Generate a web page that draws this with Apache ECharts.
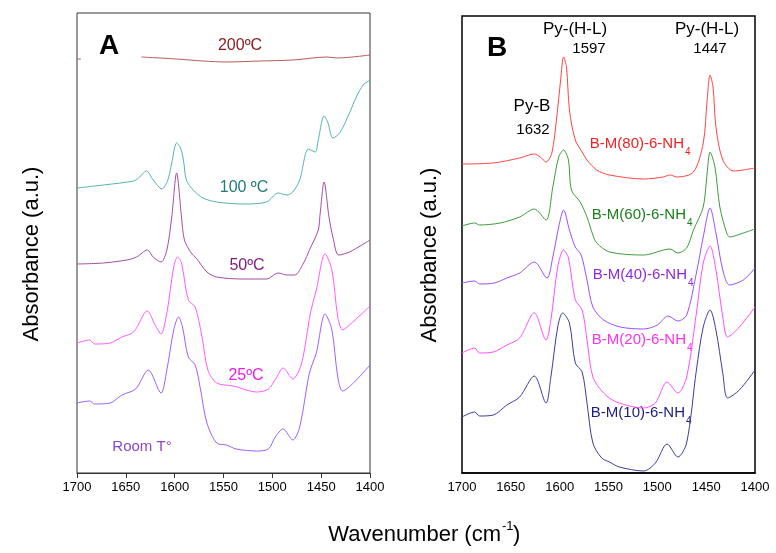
<!DOCTYPE html>
<html>
<head>
<meta charset="utf-8">
<script src="https://cdn.jsdelivr.net/npm/echarts@6/dist/echarts.min.js"></script>
<style>
  html, body { margin: 0; padding: 0; background: #fff; }
  #chart { width: 776px; height: 553px; }
</style>
</head>
<body>
<div id="chart"></div>
<script>
// Wavenumber ticks shared by both panels (cm-1, axis runs 1700 -> 1400)
const wnTicks = [1700, 1650, 1600, 1550, 1500, 1450, 1400];

// Panel A: pyridine desorption spectra at increasing temperature, [wavenumber, absorbance (a.u.)]
const specA_200C = [
  [1700, 4.14], [1696, 4.14], [1695, null],
  [1634, 4.16], [1598, 4.14], [1571, 4.12], [1547, 4.11], [1513, 4.12],
  [1479, 4.13], [1444, 4.16], [1434, 4.15], [1400, 4.18]
];
const specA_100C = [
  [1700, 2.85], [1673, 2.88], [1642, 2.92], [1637, 2.95], [1629, 3.02], [1622, 2.93],
  [1613, 2.84], [1607, 2.93], [1603, 3.10], [1598, 3.30], [1594, 3.25], [1591, 3.13],
  [1588, 2.93], [1581, 2.83], [1571, 2.75], [1557, 2.71], [1530, 2.69], [1506, 2.71],
  [1494, 2.80], [1485, 2.78], [1479, 2.81], [1472, 2.93], [1463, 3.24], [1456, 3.21],
  [1453, 3.33], [1447, 3.57], [1443, 3.50], [1438, 3.35], [1431, 3.40], [1421, 3.60],
  [1414, 3.76], [1407, 3.88], [1400, 3.93]
];
const specA_50C = [
  [1700, 2.09], [1673, 2.10], [1649, 2.13], [1639, 2.16], [1628, 2.23], [1622, 2.16],
  [1614, 2.11], [1608, 2.23], [1603, 2.56], [1598, 3.00], [1593, 2.56], [1590, 2.33],
  [1583, 2.20], [1578, 2.15], [1567, 2.01], [1557, 1.96], [1530, 1.94], [1506, 1.94],
  [1494, 2.00], [1485, 1.98], [1477, 1.98], [1468, 2.10], [1462, 2.23], [1453, 2.43],
  [1451, 2.60], [1447, 2.91], [1442, 2.56], [1438, 2.36], [1432, 2.18], [1421, 2.21],
  [1400, 2.33]
];
const specA_25C = [
  [1700, 1.30], [1687, 1.33], [1682, 1.29], [1666, 1.30], [1654, 1.36], [1642, 1.41],
  [1628, 1.62], [1620, 1.48], [1614, 1.39], [1608, 1.60], [1601, 2.06], [1597, 2.16],
  [1593, 2.10], [1586, 1.73], [1579, 1.66], [1572, 1.36], [1566, 1.03], [1557, 0.90],
  [1540, 0.87], [1516, 0.81], [1504, 0.84], [1496, 0.95], [1489, 1.05], [1479, 0.94],
  [1470, 1.10], [1461, 1.60], [1455, 1.83], [1446, 2.19], [1439, 2.03], [1433, 1.56],
  [1428, 1.43], [1421, 1.48], [1400, 1.67]
];
const specA_roomT = [
  [1700, 0.70], [1687, 0.72], [1682, 0.69], [1666, 0.70], [1654, 0.78], [1640, 0.84],
  [1627, 1.03], [1614, 0.80], [1608, 1.03], [1601, 1.43], [1596, 1.56], [1592, 1.46],
  [1586, 1.16], [1579, 1.08], [1574, 0.86], [1567, 0.50], [1557, 0.30], [1547, 0.28],
  [1537, 0.24], [1516, 0.22], [1504, 0.24], [1497, 0.36], [1489, 0.44], [1479, 0.33],
  [1472, 0.46], [1462, 1.00], [1455, 1.20], [1446, 1.59], [1439, 1.43], [1433, 0.96],
  [1428, 0.82], [1417, 0.90], [1400, 1.08]
];

// Panel B: pyridine spectra of the B-M(x)-6-NH4 samples, [wavenumber, absorbance (a.u.)]
const specB_80 = [
  [1700, 3.09], [1668, 3.10], [1641, 3.15], [1626, 3.19], [1620, 3.16], [1614, 3.11],
  [1608, 3.20], [1603, 3.56], [1599, 3.93], [1596, 4.16], [1593, 4.06], [1590, 3.63],
  [1584, 3.33], [1577, 3.21], [1572, 3.13], [1562, 3.03], [1549, 2.98], [1514, 2.94],
  [1494, 2.96], [1487, 2.98], [1480, 2.96], [1463, 3.01], [1453, 3.30], [1449, 3.73],
  [1446, 3.98], [1443, 3.86], [1440, 3.46], [1433, 3.13], [1422, 3.02], [1412, 3.03],
  [1400, 3.05]
];
const specB_60 = [
  [1700, 2.47], [1687, 2.50], [1682, 2.48], [1661, 2.50], [1641, 2.56], [1626, 2.64],
  [1614, 2.53], [1607, 2.86], [1601, 3.16], [1596, 3.23], [1591, 3.13], [1588, 2.83],
  [1579, 2.71], [1572, 2.56], [1566, 2.38], [1562, 2.30], [1549, 2.21], [1514, 2.18],
  [1487, 2.24], [1479, 2.20], [1470, 2.25], [1463, 2.43], [1453, 2.66], [1449, 3.00],
  [1446, 3.21], [1441, 3.06], [1436, 2.66], [1429, 2.40], [1426, 2.36], [1412, 2.40],
  [1400, 2.44]
];
const specB_40 = [
  [1700, 1.90], [1687, 1.92], [1682, 1.89], [1667, 1.90], [1654, 1.95], [1641, 2.00],
  [1626, 2.11], [1613, 1.95], [1607, 2.16], [1601, 2.46], [1596, 2.63], [1590, 2.43],
  [1584, 2.26], [1578, 2.18], [1572, 1.93], [1566, 1.66], [1555, 1.53], [1538, 1.46],
  [1514, 1.44], [1500, 1.48], [1489, 1.57], [1479, 1.52], [1470, 1.58], [1460, 2.00],
  [1453, 2.36], [1446, 2.65], [1440, 2.40], [1433, 2.03], [1426, 1.88], [1412, 1.93],
  [1400, 2.05]
];
const specB_20 = [
  [1700, 1.20], [1687, 1.25], [1682, 1.20], [1668, 1.21], [1654, 1.28], [1641, 1.35],
  [1626, 1.60], [1614, 1.33], [1609, 1.53], [1602, 2.06], [1596, 2.23], [1591, 2.15],
  [1584, 1.73], [1577, 1.63], [1572, 1.33], [1566, 0.96], [1555, 0.80], [1542, 0.71],
  [1514, 0.65], [1502, 0.70], [1490, 0.91], [1479, 0.80], [1470, 0.96], [1460, 1.60],
  [1453, 2.10], [1446, 2.27], [1440, 2.03], [1433, 1.56], [1428, 1.36], [1416, 1.46],
  [1400, 1.66]
];
const specB_10 = [
  [1700, 0.56], [1687, 0.61], [1682, 0.57], [1668, 0.58], [1654, 0.68], [1641, 0.76],
  [1626, 0.97], [1614, 0.70], [1609, 0.96], [1602, 1.46], [1597, 1.60], [1590, 1.50],
  [1584, 1.10], [1577, 1.01], [1572, 0.70], [1566, 0.30], [1557, 0.15], [1549, 0.11],
  [1539, 0.06], [1514, 0.02], [1502, 0.10], [1490, 0.29], [1479, 0.16], [1470, 0.30],
  [1460, 1.03], [1453, 1.46], [1446, 1.63], [1440, 1.43], [1433, 1.00], [1428, 0.75],
  [1416, 0.83], [1400, 1.03]
];

const FONT = "'Liberation Sans', Arial, Helvetica, sans-serif";

const panelA = [
  { name: '200ºC', data: specA_200C, color: '#b85a5a' },
  { name: '100 ºC', data: specA_100C, color: '#52b5ae' },
  { name: '50ºC', data: specA_50C, color: '#a24ea2' },
  { name: '25ºC', data: specA_25C, color: '#ff5cff' },
  { name: 'Room T°', data: specA_roomT, color: '#9b62ff' }
];
const panelB = [
  { name: 'B-M(80)-6-NH4', data: specB_80, color: '#ff4444' },
  { name: 'B-M(60)-6-NH4', data: specB_60, color: '#3f9b3f' },
  { name: 'B-M(40)-6-NH4', data: specB_40, color: '#9a50ff' },
  { name: 'B-M(20)-6-NH4', data: specB_20, color: '#ff50ff' },
  { name: 'B-M(10)-6-NH4', data: specB_10, color: '#3d3d99' }
];

function lineSeries(def, idx) {
  return {
    type: 'line',
    name: def.name,
    xAxisIndex: idx,
    yAxisIndex: idx,
    data: def.data,
    showSymbol: false,
    smooth: 0.3,
    connectNulls: false,
    silent: true,
    lineStyle: { color: def.color, width: 1 },
    itemStyle: { color: def.color }
  };
}

function xAxisFor(idx, withTicks, lineColor, lineWidth) {
  return {
    type: 'value',
    gridIndex: idx,
    inverse: true,
    min: wnTicks[wnTicks.length - 1],
    max: wnTicks[0],
    interval: 50,
    axisLine: { show: true, onZero: false, lineStyle: { color: lineColor, width: lineWidth } },
    axisTick: { show: withTicks, inside: false, length: 5, lineStyle: { color: '#333' } },
    splitLine: { show: false },
    axisLabel: {
      color: '#000', fontFamily: FONT, fontSize: 13, margin: 8,
      formatter: v => String(v)
    }
  };
}

// Plain text annotation helper
function txt(text, x, y, size, color, opts) {
  opts = opts || {};
  return {
    type: 'text', x: x, y: y, rotation: opts.rotation || 0, silent: true,
    style: {
      text: text, fill: color, font: (opts.bold ? 'bold ' : '') + size + 'px ' + FONT,
      align: opts.align || 'center', verticalAlign: 'middle'
    }
  };
}

// Sample label "B-M(x)-6-NH" with subscript 4
function sampleLabel(text, xRight, y, color) {
  return [
    txt(text, xRight, y, 15, color, { align: 'right' }),
    txt('4', xRight + 1, y + 8, 10, color, { align: 'left' })
  ];
}

const graphics = [
  // panel A annotations
  txt('A', 109, 46, 28, '#000', { bold: true }),
  txt('200ºC', 240, 46, 16, '#8b1a1a'),
  txt('100 ºC', 244, 188, 16, '#1e7c78'),
  txt('50ºC', 247, 266, 16, '#7a1a7a'),
  txt('25ºC', 246, 376, 16, '#e61ee6'),
  txt('Room T°', 142, 447, 15, '#8a48c8'),
  // panel B annotations
  txt('B', 497, 48, 28, '#000', { bold: true }),
  txt('Py-(H-L)', 575, 29, 17, '#000'),
  txt('1597', 589, 49, 15, '#000'),
  txt('Py-(H-L)', 707, 29, 17, '#000'),
  txt('1447', 710, 49, 15, '#000'),
  txt('Py-B', 532, 106, 17, '#000'),
  txt('1632', 533, 130, 15, '#000'),
  ...sampleLabel('B-M(80)-6-NH', 684, 144, '#ee2222'),
  ...sampleLabel('B-M(60)-6-NH', 686, 215, '#1a801a'),
  ...sampleLabel('B-M(40)-6-NH', 687, 275, '#8a2be2'),
  ...sampleLabel('B-M(20)-6-NH', 686, 340, '#ff30f0'),
  ...sampleLabel('B-M(10)-6-NH', 685, 413, '#1c1c80'),
  // axis titles
  txt('Absorbance (a.u.)', 32, 254, 22, '#000', { rotation: Math.PI / 2 }),
  txt('Absorbance (a.u.)', 430, 255, 22, '#000', { rotation: Math.PI / 2 }),
  txt('Wavenumber (cm', 501, 535, 22, '#000', { align: 'right' }),
  txt('-1', 502, 526, 13, '#000', { align: 'left' }),
  txt(')', 513, 535, 22, '#000', { align: 'left' })
];

const chart = echarts.init(document.getElementById('chart'), null, { renderer: 'canvas' });
chart.setOption({
  animation: false,
  backgroundColor: '#fff',
  grid: [
    { left: 77, top: 13, width: 293, height: 460, show: true, borderColor: '#333', borderWidth: 1, backgroundColor: 'transparent' },
    { left: 462, top: 16, width: 293, height: 457, show: true, borderColor: '#000', borderWidth: 1.5, backgroundColor: 'transparent' }
  ],
  xAxis: [
    xAxisFor(0, true, '#333', 1),
    xAxisFor(1, false, '#000', 1.5)
  ],
  yAxis: [
    { type: 'value', gridIndex: 0, min: 0, max: 4.60, show: false },
    { type: 'value', gridIndex: 1, min: 0, max: 4.57, show: false }
  ],
  series: [
    ...panelA.map(d => lineSeries(d, 0)),
    ...panelB.map(d => lineSeries(d, 1))
  ],
  graphic: graphics
});
</script>
</body>
</html>
